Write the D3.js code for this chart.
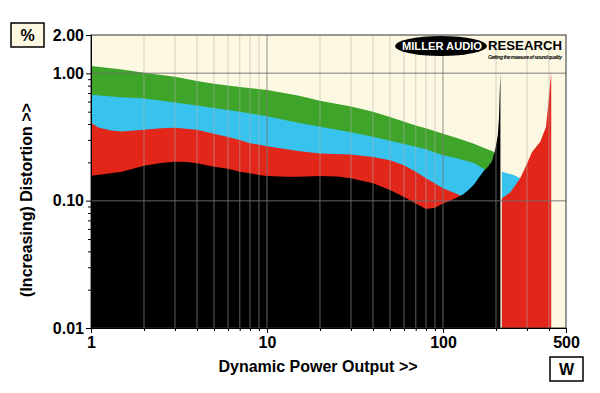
<!DOCTYPE html>
<html>
<head>
<meta charset="utf-8">
<script src="https://cdn.jsdelivr.net/npm/d3@7"></script>
<style>
body { margin: 0; background: #fff; }
text { font-family: "Liberation Sans", Arial, sans-serif; font-weight: bold; }
</style>
</head>
<body>
<script>
var w = 600,
    h = 393;
var pLeft = 91, pRight = 566, pTop = 35, pBottom = 328;

// distortion curves, [power W, distortion %]
var green = [[1,1.14],[1.5,1.07],[2,1.01],[3,0.94],[4,0.87],[5,0.83],[7,0.78],[10,0.74],
  [15,0.67],[20,0.61],[30,0.55],[40,0.50],[50,0.455],[70,0.39],[80,0.37],[100,0.335],
  [120,0.31],[150,0.28],[170,0.26],[190,0.245],[196,0.238]];
var blue = [[1,0.68],[1.2,0.665],[1.5,0.65],[2,0.635],[3,0.59],[4,0.56],[5,0.535],[7,0.5],
  [10,0.46],[15,0.41],[20,0.38],[30,0.345],[40,0.318],[50,0.295],[70,0.265],[80,0.253],
  [100,0.227],[120,0.215],[150,0.198],[170,0.178],[178,0.168],[200,null],
  [216,0.169],[252,0.159],[275,0.15]];
var red = [[1,0.41],[1.1,0.375],[1.3,0.355],[1.5,0.35],[2,0.36],[2.5,0.37],[3,0.373],[4,0.36],
  [5,0.335],[6,0.316],[7,0.3],[8,0.283],[10,0.268],[15,0.245],[20,0.235],[30,0.23],[40,0.22],
  [50,0.208],[60,0.19],[70,0.169],[80,0.15],[100,0.125],[120,0.113],[130,0.108],[170,null],
  [216,0.104],[241,0.116],[275,0.151],[300,0.195],[320,0.24],[357,0.29],[385,0.38],
  [398,0.6],[407,0.85],[412,1.0]];
var black = [[1,0.157],[1.2,0.162],[1.5,0.169],[2,0.188],[2.5,0.198],[3,0.202],[3.5,0.201],
  [4,0.197],[5,0.185],[6,0.178],[7,0.169],[8,0.164],[9,0.159],[10,0.156],[13,0.154],
  [15,0.154],[20,0.156],[25,0.155],[30,0.15],[40,0.137],[50,0.121],[60,0.107],[70,0.095],
  [80,0.086],[90,0.088],[100,0.095],[110,0.1],[120,0.106],[130,0.112],[140,0.122],
  [150,0.134],[160,0.152],[170,0.17],[180,0.185],[190,0.205],[196,0.24],[200,0.27],
  [205,0.33],[208,0.45],[210,0.7],[212,1.0]];

var xMajor = [1, 10, 100, 500];
var xMinor = [2,3,4,5,6,7,8,9,20,30,40,50,60,70,80,90,200,300,400];
var yMajor = [0.01, 0.1, 1, 2];
var yMinor = [0.02,0.03,0.04,0.05,0.06,0.07,0.08,0.09,0.2,0.3,0.4,0.5,0.6,0.7,0.8,0.9];

var x = d3.scaleLog().domain([1, 500]).range([pLeft, pRight]);
var y = d3.scaleLog().domain([0.01, 2]).range([pBottom, pTop]);

var svg = d3.select("body").append("svg")
  .attr("width", w)
  .attr("height", h);

svg.append("rect")
  .attr("x", pLeft).attr("y", pTop)
  .attr("width", pRight - pLeft).attr("height", pBottom - pTop)
  .attr("fill", "#fcf8e2");

var area = d3.area()
  .defined(function(d) { return d[1] != null; })
  .x(function(d) { return x(d[0]); })
  .y0(pBottom)
  .y1(function(d) { return y(d[1]); });

var series = [
  {data: green, color: "#3fa52a"},
  {data: blue, color: "#38c3ef"},
  {data: red, color: "#e3261a"},
  {data: black, color: "#000000"}
];

svg.selectAll("path.curve").data(series)
  .enter().append("path")
  .attr("class", "curve")
  .attr("d", function(d) { return area(d.data); })
  .attr("fill", function(d) { return d.color; });

// grid on top of the fills
svg.selectAll("line.vminor").data(xMinor)
  .enter().append("line")
  .attr("class", "vminor")
  .attr("x1", function(d) { return x(d); })
  .attr("x2", function(d) { return x(d); })
  .attr("y1", pTop).attr("y2", pBottom)
  .attr("stroke", "rgba(174,174,174,0.46)")
  .attr("stroke-width", 1.2);

svg.selectAll("line.vmajor").data([10, 100])
  .enter().append("line")
  .attr("class", "vmajor")
  .attr("x1", function(d) { return x(d); })
  .attr("x2", function(d) { return x(d); })
  .attr("y1", pTop).attr("y2", pBottom)
  .attr("stroke", "rgba(120,120,120,0.7)")
  .attr("stroke-width", 1.2);

svg.selectAll("line.hmajor").data([0.1, 1])
  .enter().append("line")
  .attr("class", "hmajor")
  .attr("x1", pLeft).attr("x2", pRight)
  .attr("y1", function(d) { return y(d); })
  .attr("y2", function(d) { return y(d); })
  .attr("stroke", "rgba(110,110,110,0.6)")
  .attr("stroke-width", 1.5);

// logo
var logo = svg.append("g");
logo.append("rect")
  .attr("x", 393).attr("y", pTop + 0.5)
  .attr("width", pRight - 393 - 0.5).attr("height", 12)
  .attr("fill", "#fcf8e2");
logo.append("ellipse")
  .attr("cx", 441).attr("cy", 46)
  .attr("rx", 46).attr("ry", 10)
  .attr("fill", "#000");
logo.append("text")
  .attr("x", 402).attr("y", 50)
  .attr("font-size", "11.5px")
  .attr("textLength", 80)
  .attr("lengthAdjust", "spacingAndGlyphs")
  .attr("fill", "#fff")
  .text("MILLER AUDIO");
logo.append("text")
  .attr("x", 488).attr("y", 49.5)
  .attr("font-size", "12.5px")
  .attr("textLength", 74)
  .attr("lengthAdjust", "spacingAndGlyphs")
  .attr("fill", "#000")
  .text("RESEARCH");
logo.append("text")
  .attr("x", 488).attr("y", 58.5)
  .attr("font-size", "5px")
  .attr("font-style", "italic")
  .attr("textLength", 74)
  .attr("fill", "#000")
  .text("Getting the measure of sound quality");

// frame
svg.append("rect")
  .attr("x", pLeft).attr("y", pTop)
  .attr("width", pRight - pLeft).attr("height", pBottom - pTop)
  .attr("fill", "none")
  .attr("stroke", "#333")
  .attr("stroke-width", 1);

// axes
var xAxis = svg.append("g")
  .attr("transform", "translate(0," + pBottom + ")")
  .call(d3.axisBottom(x).tickValues(xMajor).tickFormat(d3.format("d")).tickSize(5).tickSizeOuter(0));
svg.append("g")
  .attr("transform", "translate(0," + pBottom + ")")
  .call(d3.axisBottom(x).tickValues(xMinor).tickFormat("").tickSize(3).tickSizeOuter(0));
xAxis.selectAll("text")
  .attr("font-size", "16px")
  .attr("font-family", "'Liberation Sans', Arial, sans-serif")
  .attr("font-weight", "bold")
  .attr("fill", "#000")
  .attr("y", 9);

var yAxis = svg.append("g")
  .attr("transform", "translate(" + pLeft + ",0)")
  .call(d3.axisLeft(y).tickValues(yMajor).tickFormat(d3.format(".2f")).tickSize(5).tickSizeOuter(0));
svg.append("g")
  .attr("transform", "translate(" + pLeft + ",0)")
  .call(d3.axisLeft(y).tickValues(yMinor).tickFormat("").tickSize(3).tickSizeOuter(0));
yAxis.selectAll("text")
  .attr("font-size", "16px")
  .attr("font-family", "'Liberation Sans', Arial, sans-serif")
  .attr("font-weight", "bold")
  .attr("fill", "#000")
  .attr("x", -7);

svg.selectAll(".domain").attr("stroke", "#000");
svg.selectAll(".tick line").attr("stroke", "#000");

// titles
svg.append("text")
  .attr("x", 318).attr("y", 372)
  .attr("text-anchor", "middle")
  .attr("font-size", "16px")
  .text("Dynamic Power Output >>");

svg.append("text")
  .attr("transform", "translate(32,200) rotate(-90)")
  .attr("text-anchor", "middle")
  .attr("font-size", "16px")
  .text("(Increasing) Distortion >>");

// unit boxes
var units = [{label: "%", x: 11, y: 23}, {label: "W", x: 550, y: 357}];
svg.selectAll("rect.unit").data(units)
  .enter().append("rect")
  .attr("class", "unit")
  .attr("x", function(d) { return d.x; })
  .attr("y", function(d) { return d.y; })
  .attr("width", 33).attr("height", 24)
  .attr("fill", function(d) { return d.label == "%" ? "#fcf8e2" : "#fff"; })
  .attr("stroke", "#000")
  .attr("stroke-width", 1.5);
svg.selectAll("text.unit").data(units)
  .enter().append("text")
  .attr("class", "unit")
  .attr("x", function(d) { return d.x + 16.5; })
  .attr("y", function(d) { return d.y + 18; })
  .attr("text-anchor", "middle")
  .attr("font-size", "16px")
  .text(function(d) { return d.label; });
</script>
</body>
</html>
